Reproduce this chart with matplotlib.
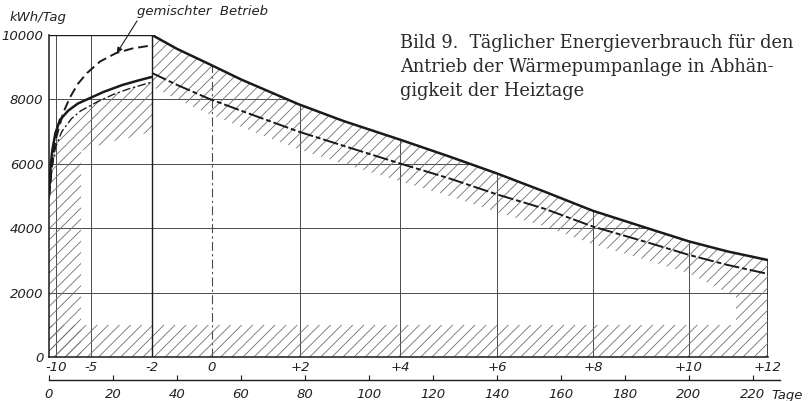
import numpy as np
import matplotlib
matplotlib.use("Agg")
import matplotlib.pyplot as plt
from matplotlib.patches import Polygon

# --- Daten ---
day_end = 224.7          # Ende der Heizperiode (Tage)
day_split = 32.2         # Übergang -2 °C

# linker Teil: Anlaufkurven
left_days = [0, 0.5, 1, 2, 3.4, 6, 9, 12.8, 17, 23, 28, 32.2]
left_solid = [5000, 5900, 6400, 6950, 7360, 7650, 7870, 8040, 8230, 8450, 8590, 8700]

mixed_days = [0, 1, 2, 2.9, 4.5, 6.6, 9, 11.9, 16, 21, 26, 32.2]
mixed_vals = [5000, 6000, 6700, 7050, 7600, 8070, 8480, 8820, 9180, 9440, 9580, 9680]

left_dd_days = [0, 1, 2, 4, 7, 10, 15, 20, 25, 32.2]
left_dd_vals = [4900, 5900, 6500, 7000, 7400, 7650, 7920, 8150, 8330, 8540]
left_band_low = [6400, 6550, 6700, 6800, 7000]   # fuer Tage 10 .. 32.2

# rechter Teil
right_days = [32.2, 40, 50, 60, 78, 92, 110, 125, 140, 155, 170, 187, 200, 212, 224.7]
right_solid = [10000, 9570, 9100, 8620, 7850, 7330, 6740, 6230, 5700, 5130, 4540, 4000, 3590, 3280, 3010]
right_dd = [8820, 8450, 8020, 7650, 7000, 6560, 6000, 5550, 5050, 4600, 4050, 3560, 3170, 2860, 2580]
right_band_low = [8400, 8000, 7550, 7150, 6450, 6000, 5450, 5000, 4500, 4050, 3500, 3000, 2600, 2000, 2000]

bottom_band_end = 214.7
bottom_band_top = 1000
right_strip_top = 2000

# Achsen
y_ticks = [0, 2000, 4000, 6000, 8000, 10000]
temp_days = [2.2, 13.1, 32.2, 50.9, 78.4, 109.7, 140, 170, 200, 224.7]
temp_labels = ["-10", "-5", "-2", "0", "+2", "+4", "+6", "+8", "+10", "+12"]
day_ticks = list(range(0, 221, 20))

caption = ["Bild 9.  Täglicher Energieverbrauch für den",
           "Antrieb der Wärmepumpanlage in Abhän-",
           "gigkeit der Heiztage"]

W, H = 808, 401
plt.rcParams["hatch.linewidth"] = 0.6
ink = "#1a1a1a"
grid_c = "#4a4a4a"
hatch_c = "#707070"
lab = dict(family="DejaVu Sans", style="italic", color="#222222")

fig = plt.figure(figsize=(W / 100, H / 100), dpi=100)
ax = fig.add_axes([49 / W, 44 / H, 719 / W, 322 / H])
ax.set_xlim(0, day_end)
ax.set_ylim(0, 10000)
ax.patch.set_alpha(0)
for s in ("top", "right"):
    ax.spines[s].set_visible(False)
for s in ("left", "bottom"):
    ax.spines[s].set_linewidth(1.1)
    ax.spines[s].set_color(ink)

# Gebiet unter der oberen Begrenzung (fuer Gitterlinien)
env_x = [0, 0] + right_days + [day_end]
env_y = [0, 10000] + right_solid + [0]
clip = Polygon(np.column_stack([env_x, env_y]), closed=True,
               transform=ax.transData, fill=False, visible=False)
ax.add_patch(clip)

for v in y_ticks[1:-1]:
    ln = ax.axhline(v, color=grid_c, lw=0.7, zorder=1)
    ln.set_clip_path(clip)
for d, t in zip(temp_days, temp_labels):
    if t == "0":
        ln = ax.axvline(d, color=grid_c, lw=0.8, dashes=(8, 3, 2, 3), zorder=1)
    elif d == day_end:
        ln = ax.axvline(d, color=ink, lw=1.2, zorder=1)
    else:
        ln = ax.axvline(d, color=grid_c, lw=0.7, zorder=1)
    ln.set_clip_path(clip)
ax.plot([0, day_split], [10000, 10000], color=ink, lw=1.0)
ax.plot([day_split, day_split], [0, 10000], color=ink, lw=1.0)

# Schraffuren
hkw = dict(facecolor="none", edgecolor=hatch_c, hatch="///", linewidth=0)
ax.fill_between(left_dd_days[:6], 0, left_dd_vals[:6], **hkw)
ax.fill_between(left_dd_days[5:], left_band_low, left_dd_vals[5:], **hkw)
ax.fill_between([0, bottom_band_end], 0, bottom_band_top, **hkw)
ax.fill_between([bottom_band_end, day_end], 0, right_strip_top, **hkw)
ax.fill_between(right_days, right_band_low, right_solid, **hkw)

# Kurven
ax.plot(left_days, left_solid, color=ink, lw=1.8, solid_capstyle="butt")
ax.plot(mixed_days, mixed_vals, color=ink, lw=1.4, dashes=(5, 2.5))
ax.plot(left_dd_days, left_dd_vals, color=ink, lw=1.0, dashes=(6, 2, 1.5, 2))
ax.plot(right_days, right_solid, color=ink, lw=1.8)
ax.plot(right_days, right_dd, color=ink, lw=1.4, dashes=(8, 1.5, 2.5, 1.5))

# Achsenbeschriftung
ax.set_yticks(y_ticks)
ax.set_yticklabels([str(v) for v in y_ticks], fontsize=9.5, **lab)
ax.tick_params(axis="y", length=0, pad=4)
ax.set_xticks(temp_days)
ax.set_xticklabels(temp_labels, fontsize=9.5, **lab)
ax.tick_params(axis="x", length=0, pad=3)

ax2 = fig.add_axes([49 / W, 21 / H, 731 / W, 0.001])
ax2.set_xlim(0, 731 / 719 * day_end)
ax2.set_yticks([])
ax2.patch.set_alpha(0)
for s in ("top", "right", "left"):
    ax2.spines[s].set_visible(False)
ax2.spines["bottom"].set_linewidth(1.0)
ax2.spines["bottom"].set_color(ink)
ax2.set_xticks(day_ticks)
ax2.set_xticklabels([str(d) for d in day_ticks], fontsize=9.5, **lab)
ax2.tick_params(axis="x", direction="in", length=3.5, width=0.8, pad=6, color=ink)
fig.text(771 / W, 1 - 395 / H, "Tage", fontsize=9.5, va="center", ha="left", **lab)

fig.text(10 / W, 1 - 17 / H, "kWh/Tag", fontsize=9.5, va="center", ha="left", **lab)
fig.text(137 / W, 1 - 12 / H, "gemischter  Betrieb", fontsize=9.5, va="center", ha="left", **lab)
ax.annotate("", xy=(21.2, 9440), xytext=(137 / W, 1 - 21 / H),
            textcoords="figure fraction",
            arrowprops=dict(arrowstyle="-|>", color=ink, lw=0.8,
                            mutation_scale=8, shrinkA=0, shrinkB=0))

for i, line in enumerate(caption):
    fig.text(400 / W, 1 - (48 + 24 * i) / H, line, fontsize=12.8,
             family="DejaVu Serif", va="baseline", ha="left", color="#2a2a2a")

fig.savefig("out.png", dpi=100)
